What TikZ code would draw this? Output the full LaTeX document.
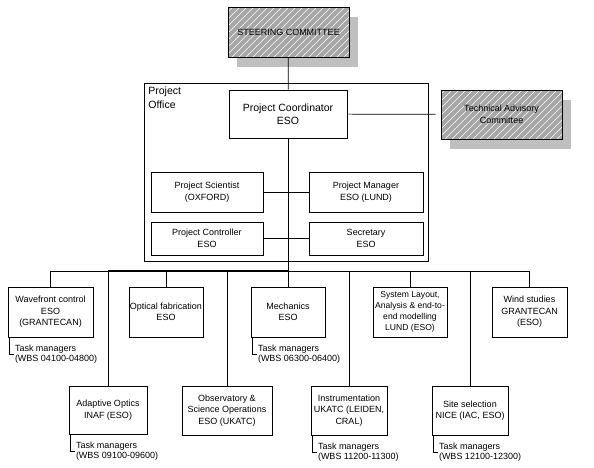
\documentclass[tikz,border=0pt]{standalone}
\usepackage{fontspec}
\setmainfont{Liberation Sans}
\usepackage{tikz}
\usetikzlibrary{arrows.meta,shadows}

\begin{document}
\begin{tikzpicture}[x=1pt, y=-1pt, line width=0.7pt,
    unit/.style={draw, fill=white, align=center, inner sep=1pt,
        font=\fontsize{9}{11.5}\selectfont},
    hatched/.style={draw, align=center, inner sep=1pt, fill=gray!70,
        font=\fontsize{9}{11.5}\selectfont,
        drop shadow={shadow xshift=9pt, shadow yshift=-10pt, fill=gray!50, opacity=1},
        path picture={
            \foreach \k in {0,7,...,210}
                \draw[white, line width=0.6pt]
                    ([xshift=\k pt-80pt]path picture bounding box.south west) -- ++(80pt,80pt);
        }},
    taskmgr/.style={anchor=west, align=left, inner sep=1pt,
        font=\fontsize{9}{10.5}\selectfont}
]

    \useasboundingbox (0,0) rectangle (594,468);

    % Comitès
    \node[hatched, minimum width=121pt, minimum height=50pt] (steer) at (288.5,32)
        {STEERING COMMITTEE};
    \node[hatched, minimum width=121pt, minimum height=49pt] (tac) at (501.5,114.5)
        {Technical Advisory\\Committee};

    % Oficina del projecte
    \node[draw, minimum width=284pt, minimum height=178pt] (office) at (286,172) {};
    \node[anchor=north west, align=left, inner sep=1pt,
        font=\fontsize{10.5}{13.5}\selectfont] (officelabel) at (147,86)
        {Project\\Office};

    \node[unit, minimum width=118pt, minimum height=48pt,
        font=\fontsize{10.5}{13.5}\selectfont] (coord) at (288,114)
        {Project Coordinator\\ESO};

    \node[unit, minimum width=112pt, minimum height=40pt] (sci) at (207,192)
        {Project Scientist\\(OXFORD)};
    \node[unit, minimum width=114pt, minimum height=40pt] (mgr) at (366,192)
        {Project Manager\\ESO (LUND)};
    \node[unit, minimum width=112pt, minimum height=33pt] (ctrl) at (207,238.5)
        {Project Controller\\ESO};
    \node[unit, minimum width=114pt, minimum height=33pt] (sec) at (366,238.5)
        {Secretary\\ESO};

    % Paquets de treball (fila superior)
    \node[unit, minimum width=85pt, minimum height=50pt] (wfc) at (50.5,312)
        {Wavefront control\\ESO\\(GRANTECAN)};
    \node[unit, minimum width=74pt, minimum height=50pt] (opt) at (166,312)
        {Optical fabrication\\ESO};
    \node[unit, minimum width=74pt, minimum height=50pt] (mech) at (288,312)
        {Mechanics\\ESO};
    \node[unit, minimum width=74pt, minimum height=50pt,
        font=\fontsize{8.6}{11}\selectfont] (sys) at (410,312)
        {System Layout,\\Analysis \& end-to-\\end modelling\\LUND (ESO)};
    \node[unit, minimum width=75pt, minimum height=50pt] (wind) at (529.5,312)
        {Wind studies\\GRANTECAN\\(ESO)};

    % Paquets de treball (fila inferior)
    \node[unit, minimum width=78pt, minimum height=48pt] (ao) at (108,410)
        {Adaptive Optics\\INAF (ESO)};
    \node[unit, minimum width=90pt, minimum height=49pt] (obs) at (227,410.5)
        {Observatory \&\\Science Operations\\ESO (UKATC)};
    \node[unit, minimum width=76pt, minimum height=49pt] (ins) at (349,410.5)
        {Instrumentation\\UKATC (LEIDEN,\\CRAL)};
    \node[unit, minimum width=76pt, minimum height=49pt] (site) at (470,410.5)
        {Site selection\\NICE (IAC, ESO)};

    % Connexions
    \coordinate (bus) at (288,271);
    \draw (steer) -- (coord);
    \draw[shorten >=5pt] (coord) -- (tac);
    \draw (sci) -- (mgr);
    \draw (ctrl) -- (sec);
    \draw (coord.south) -- (bus);
    \draw (wfc.north |- bus) -- (wind.north |- bus);
    \draw[line width=1.4pt] (ao.north |- bus) -- (bus);
    \foreach \b in {wfc,opt,mech,sys,wind,ao,obs,ins,site}
        \draw (\b.north) -- (\b.north |- bus);

    % Responsables de tasques
    \foreach \b/\wbs in {wfc/04100-04800, mech/06300-06400, ao/09100-09600,
                         ins/11200-11300, site/12100-12300} {
        \node[taskmgr] (tm\b) at ([xshift=6pt, yshift=-17pt]\b.south west)
            {Task managers\\(WBS \wbs)};
        \draw ([xshift=2pt]\b.south west) |- (tm\b.west);
    }

\end{tikzpicture}
\end{document}
